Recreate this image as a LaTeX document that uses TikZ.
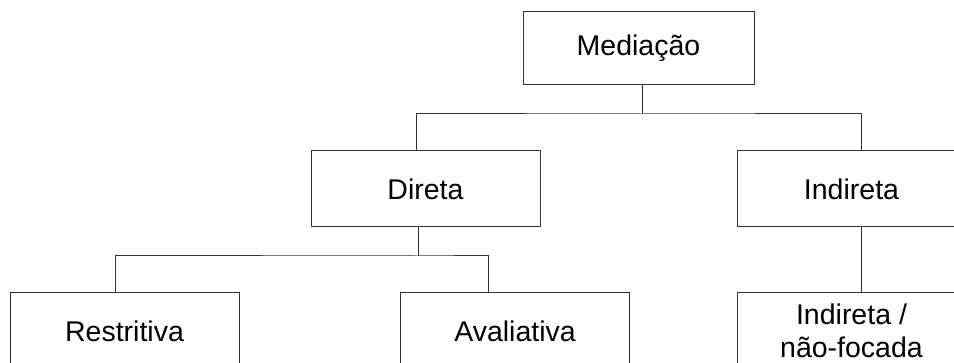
\documentclass[tikz,border=0pt]{standalone}
\usepackage{fontspec}
\setmainfont{Liberation Sans}
\tikzset{
  box/.style={draw=black!80, line width=1pt, minimum width=229pt, minimum height=76pt,
    inner sep=0pt, align=center, font=\fontsize{28.5}{33}\selectfont},
  wire/.style={draw=black!80, line width=1pt}
}
\begin{document}
\begin{tikzpicture}[x=1pt,y=-1pt]
\useasboundingbox (0,0) rectangle (954,363);
\clip (0,0) rectangle (954,363);
% boxes
\node[box, minimum width=231pt, minimum height=73pt] (med) at (638.5,48.5) {Mediação};
\node[box] (dir) at (425.5,189) {Direta};
\node[box] (ind) at (851.5,189) {Indireta};
\node[box] (res) at (124.5,331) {Restritiva};
\node[box] (ava) at (515,331) {Avaliativa};
\node[box] (nf) at (851.5,331) {Indireta /\\não-focada};
% connector points
\coordinate (medout) at ([xshift=3.5pt]med.south);
\coordinate (dirin) at ([xshift=-9.5pt]dir.north);
\coordinate (indin) at ([xshift=9.5pt]ind.north);
\coordinate (dirout) at ([xshift=-7.5pt]dir.south);
\coordinate (resin) at ([xshift=-9.5pt]res.north);
\coordinate (avain) at ([xshift=-27pt]ava.north);
\coordinate (indout) at ([xshift=9.5pt]ind.south);
\coordinate (nfin) at ([xshift=9.5pt]nf.north);
\coordinate (bus1) at (642,114);
\coordinate (bus2) at (418,256);
% connectors
\draw[wire] (medout) -- (bus1);
\draw[wire] (dirin) |- (bus1) -| (indin);
\draw[wire] (dirout) -- (bus2);
\draw[wire] (resin) |- (bus2) -| (avain);
\draw[wire] (indout) -- (nfin);
\end{tikzpicture}
\end{document}
